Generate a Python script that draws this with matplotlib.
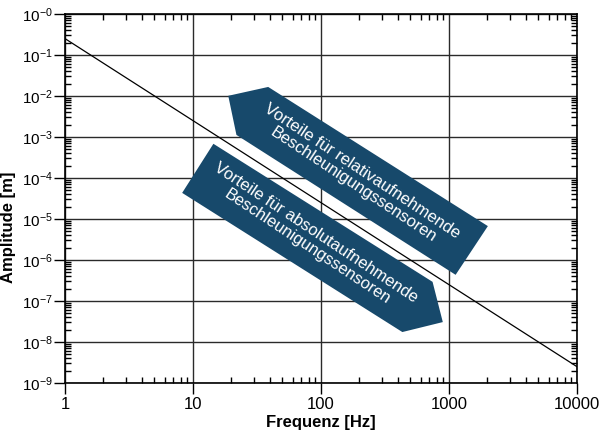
import numpy as np
import matplotlib.pyplot as plt
from matplotlib.patches import Polygon
from matplotlib.ticker import LogLocator, NullFormatter

plt.rcParams['font.family'] = ['Liberation Sans', 'DejaVu Sans']
plt.rcParams['mathtext.fontset'] = 'custom'
plt.rcParams['mathtext.rm'] = 'Liberation Sans'
plt.rcParams['mathtext.it'] = 'Liberation Sans'

# Grenzkurve: konstante Beschleunigung -> Amplitude ~ 1/f^2
freq = [1, 10000]
amp = [0.25, 2.5e-9]

xticks = [1, 10, 100, 1000, 10000]
xtick_labels = ['1', '10', '100', '1000', '10000']
yticks = [1e0, 1e-1, 1e-2, 1e-3, 1e-4, 1e-5, 1e-6, 1e-7, 1e-8, 1e-9]
ytick_labels = ['10$^{-0}$', '10$^{-1}$', '10$^{-2}$', '10$^{-3}$', '10$^{-4}$',
                '10$^{-5}$', '10$^{-6}$', '10$^{-7}$', '10$^{-8}$', '10$^{-9}$']

text_rel = 'Vorteile für relativaufnehmende\nBeschleunigungssensoren'
text_abs = 'Vorteile für absolutaufnehmende\nBeschleunigungssensoren'

# Pfeilformen (Achsenbruchteile)
arrow_rel = [(0.335, 0.672), (0.319, 0.778), (0.397, 0.802), (0.826, 0.425), (0.763, 0.293)]
arrow_abs = [(0.229, 0.515), (0.290, 0.648), (0.718, 0.274), (0.738, 0.165), (0.659, 0.138)]
blue = '#17496b'

fig = plt.figure(figsize=(6.01, 4.33), dpi=100)
ax = fig.add_axes([0.108, 0.1155, 0.852, 0.8525])

ax.set_xscale('log')
ax.set_yscale('log')
ax.set_xlim(1, 10000)
ax.set_ylim(1e-9, 1e0)

ax.grid(True, which='major', color='#2a2a2a', linewidth=1.0)
ax.set_axisbelow(True)

ax.plot(freq, amp, color='black', linewidth=0.9, zorder=3)

for pts in (arrow_rel, arrow_abs):
    ax.add_patch(Polygon(pts, closed=True, transform=ax.transAxes,
                         facecolor=blue, edgecolor='none', zorder=4))

ax.text(0.572, 0.556, text_rel, transform=ax.transAxes, rotation=-33.5,
        rotation_mode='anchor', ha='center', va='center', color='white',
        fontsize=12, linespacing=1.1, zorder=5)
ax.text(0.482, 0.388, text_abs, transform=ax.transAxes, rotation=-33.5,
        rotation_mode='anchor', ha='center', va='center', color='white',
        fontsize=12, linespacing=1.1, zorder=5)

ax.set_xticks(xticks)
ax.set_xticklabels(xtick_labels)
ax.set_yticks(yticks)
ax.set_yticklabels(ytick_labels)
ax.xaxis.set_minor_locator(LogLocator(base=10, subs=np.arange(2, 10)))
ax.yaxis.set_minor_locator(LogLocator(base=10, subs=np.arange(2, 10), numticks=20))
ax.xaxis.set_minor_formatter(NullFormatter())
ax.yaxis.set_minor_formatter(NullFormatter())

ax.tick_params(which='major', direction='out', length=8, width=1,
               top=False, right=False, colors='black', pad=2)
ax.tick_params(axis='x', which='major', labelsize=12)
ax.tick_params(axis='y', which='major', labelsize=11, pad=1)
ax.tick_params(which='minor', direction='in', length=4, width=1,
               top=True, right=True, bottom=True, left=True)

for sp in ax.spines.values():
    sp.set_linewidth(1.2)
    sp.set_color('black')

ax.set_xlabel('Frequenz [Hz]', fontsize=12, fontweight='bold', labelpad=2)
ax.set_ylabel('Amplitude [m]', fontsize=12, fontweight='bold')
ax.yaxis.set_label_coords(-0.095, 0.423)

fig.savefig('out.png', dpi=100)
